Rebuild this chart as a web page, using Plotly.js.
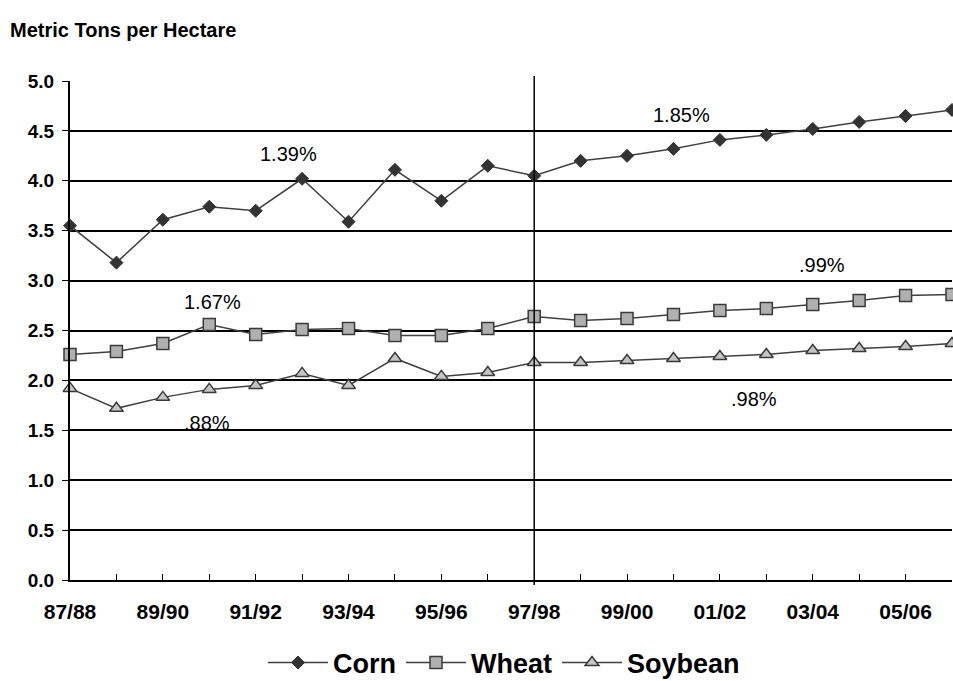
<!DOCTYPE html>
<html>
<head>
<meta charset="utf-8">
<script src="https://cdn.plot.ly/plotly-3.0.1.min.js"></script>
<style>html,body{margin:0;padding:0;background:#fff;}#chart{width:953px;height:681px;}</style>
</head>
<body>
<div id="chart"></div>
<script>
// Marketing years
const years = ["87/88","88/89","89/90","90/91","91/92","92/93","93/94","94/95","95/96","96/97",
               "97/98","98/99","99/00","00/01","01/02","02/03","03/04","04/05","05/06","06/07"];
// Yields, metric tons per hectare
const corn    = [3.55,3.18,3.61,3.74,3.70,4.02,3.59,4.11,3.80,4.15,4.05,4.20,4.25,4.32,4.41,4.46,4.52,4.59,4.65,4.71];
const wheat   = [2.26,2.29,2.37,2.56,2.46,2.51,2.52,2.45,2.45,2.52,2.64,2.60,2.62,2.66,2.70,2.72,2.76,2.80,2.85,2.86];
const soybean = [1.92,1.72,1.83,1.91,1.95,2.07,1.95,2.22,2.04,2.08,2.18,2.18,2.20,2.22,2.24,2.26,2.30,2.32,2.34,2.37];
// Tick labels (every other year)
const tickLabels = years.map((y, i) => i % 2 === 0 ? y : "");
// Growth-rate labels
const rateLabels = [
  {text: "1.39%", x: 4.71, y: 4.27},
  {text: "1.67%", x: 3.06, y: 2.79},
  {text: ".88%",  x: 2.95, y: 1.57},
  {text: "1.85%", x: 13.18, y: 4.66},
  {text: ".99%",  x: 16.19, y: 3.16},
  {text: ".98%",  x: 14.73, y: 1.81}
];
const splitYear = "97/98";

const FONT = "Arial, 'Liberation Sans', sans-serif";
const lineCol = "#404040";

const traces = [
  {x: years, y: corn, name: "Corn", type: "scatter", mode: "lines+markers", cliponaxis: false,
   line: {color: lineCol, width: 1.5},
   marker: {symbol: "diamond", size: 10, color: "#333333", line: {color: "#333333", width: 1}}},
  {x: years, y: wheat, name: "Wheat", type: "scatter", mode: "lines+markers", cliponaxis: false,
   line: {color: lineCol, width: 1.5},
   marker: {symbol: "square", size: 12, color: "#b0b0b0", line: {color: "#3a3a3a", width: 1.5}}},
  {x: years, y: soybean, name: "Soybean", type: "scatter", mode: "lines+markers", cliponaxis: false,
   line: {color: lineCol, width: 1.5},
   marker: {symbol: "triangle-up", size: 12, color: "#c4c4c4", line: {color: "#3a3a3a", width: 1.5}}}
];

const layout = {
  width: 953, height: 681,
  margin: {l: 70, r: 1, t: 81, b: 101},
  paper_bgcolor: "#fff", plot_bgcolor: "#fff",
  font: {family: FONT, color: "#000"},
  showlegend: true,
  title: {text: "<b>Metric Tons per Hectare</b>", font: {family: FONT, size: 20, color: "#000"},
          xref: "container", x: 10/953, xanchor: "left", yref: "container", y: 1 - 30/681, yanchor: "middle"},
  xaxis: {type: "category", categoryorder: "array", categoryarray: years,
          range: [0, years.length - 1], autorange: false, automargin: false,
          tickmode: "array", tickvals: years, ticktext: tickLabels,
          ticks: "inside", ticklen: 6, tickwidth: 1, tickcolor: "#000",
          showline: true, linecolor: "#000", linewidth: 2,
          showgrid: false, zeroline: false, ticklabelstandoff: 12,
          tickfont: {family: FONT, size: 21, color: "#000", weight: "bold"}},
  yaxis: {range: [0, 5], autorange: false, dtick: 0.5, tick0: 0, tickformat: ".1f", automargin: false,
          ticks: "outside", ticklen: 6, tickwidth: 1, tickcolor: "#000",
          showline: true, linecolor: "#000", linewidth: 2,
          showgrid: true, gridcolor: "#000", gridwidth: 2, zeroline: false,
          ticklabelstandoff: 4,
          tickfont: {family: FONT, size: 19, color: "#000", weight: "bold"}},
  legend: {orientation: "h", xref: "container", x: 504/953, xanchor: "center",
           yref: "container", y: 1 - 663/681, yanchor: "middle",
           font: {family: FONT, size: 27, color: "#000", weight: "bold"},
           itemwidth: 60, tracegroupgap: 0, bgcolor: "rgba(0,0,0,0)"},
  shapes: [{type: "line", xref: "x", yref: "paper", x0: splitYear, x1: splitYear, y0: -0.01, y1: 1.01,
            line: {color: "#000", width: 1.5}}],
  annotations: rateLabels.map(a => ({text: a.text, x: a.x, y: a.y, xref: "x", yref: "y",
            showarrow: false, xanchor: "center", yanchor: "middle",
            font: {family: FONT, size: 20, color: "#000"}}))
};

Plotly.newPlot("chart", traces, layout, {displayModeBar: false, staticPlot: true});
</script>
</body>
</html>
